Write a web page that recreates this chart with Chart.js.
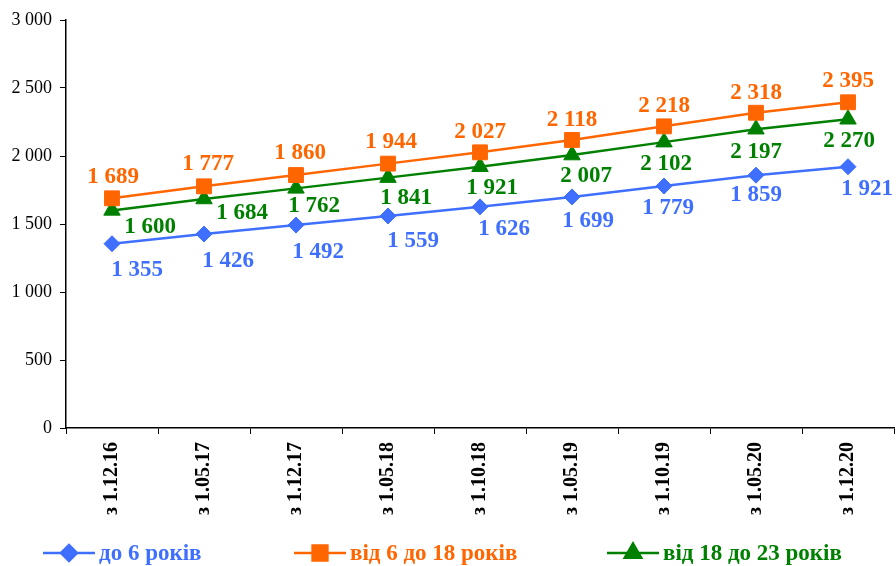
<!DOCTYPE html>
<html>
<head>
<meta charset="utf-8">
<script src="https://cdn.jsdelivr.net/npm/chart.js@4"></script>
<style>
  html, body { margin: 0; padding: 0; background: #fff; overflow: hidden; }
  #wrap { width: 896px; height: 566px; }
</style>
</head>
<body>
<div id="wrap"><canvas id="line"></canvas></div>
<script>
const categories = ['з 1.12.16', 'з 1.05.17', 'з 1.12.17', 'з 1.05.18', 'з 1.10.18',
    'з 1.05.19', 'з 1.10.19', 'з 1.05.20', 'з 1.12.20'];
const seriesNames = ['до 6 років', 'від 6 до 18 років', 'від 18 до 23 років'];
const under6 = [1355, 1426, 1492, 1559, 1626, 1699, 1779, 1859, 1921];
const from6to18 = [1689, 1777, 1860, 1944, 2027, 2118, 2218, 2318, 2395];
const from18to23 = [1600, 1684, 1762, 1841, 1921, 2007, 2102, 2197, 2270];
const yTicks = [0, 500, 1000, 1500, 2000, 2500, 3000];

const colours = ['#3F6FFF', '#FF6600', '#008000'];
const FONT = '"Liberation Serif", "Times New Roman", serif';

// label shift from each point, in pixels
const labelShift = [
    [[25, 26], [24, 27], [22, 27], [25, 25], [24, 22], [16, 24], [4, 22], [0, 20], [19, 22]],
    [[1, -21], [4, -22], [4, -22], [3, -22], [0, -20], [0, -20], [0, -20], [0, -20], [0, -21]],
    [[38, 17], [38, 14], [18, 18], [18, 20], [12, 21], [14, 21], [2, 22], [0, 23], [1, 22]]
];

function spaced(n) {
    return String(n).replace(/\B(?=(\d{3})+(?!\d))/g, ' ');
}

const pointLabels = {
    id: 'pointLabels',
    afterDatasetsDraw(chart) {
        const ctx = chart.ctx;
        ctx.save();
        ctx.font = 'bold 23px ' + FONT;
        ctx.textAlign = 'center';
        ctx.textBaseline = 'middle';
        chart.data.datasets.forEach((ds, i) => {
            const meta = chart.getDatasetMeta(i);
            ctx.fillStyle = ds.borderColor;
            meta.data.forEach((pt, j) => {
                const s = labelShift[i][j];
                ctx.fillText(spaced(ds.data[j]), pt.x + s[0], pt.y + s[1]);
            });
        });
        ctx.restore();
    }
};

const bottomLegend = {
    id: 'bottomLegend',
    afterDraw(chart) {
        const ctx = chart.ctx;
        const starts = [43, 294, 607];
        const y = 553;
        ctx.save();
        ctx.font = 'bold 23px ' + FONT;
        ctx.textBaseline = 'middle';
        chart.data.datasets.forEach((ds, i) => {
            const x = starts[i];
            ctx.strokeStyle = ds.borderColor;
            ctx.lineWidth = 2.5;
            ctx.beginPath();
            ctx.moveTo(x, y);
            ctx.lineTo(x + 52, y);
            ctx.stroke();
            ctx.fillStyle = ds.borderColor;
            Chart.helpers.drawPoint(ctx, {
                pointStyle: ds.pointStyle, radius: ds.pointRadius, borderWidth: 1
            }, x + 26, y);
            ctx.fillText(ds.label, x + 56, y + 1);
        });
        ctx.restore();
    }
};

function series(i, data, style, radius) {
    return {
        label: seriesNames[i],
        data: data,
        borderColor: colours[i],
        backgroundColor: colours[i],
        borderWidth: 2.5,
        pointStyle: style,
        pointRadius: radius,
        pointHoverRadius: radius,
        pointBorderWidth: 1,
        tension: 0,
        clip: false
    };
}

new Chart(document.getElementById('line'), {
    type: 'line',
    data: {
        labels: categories,
        datasets: [
            series(0, under6, 'rectRot', 8),
            series(1, from6to18, 'rect', 10.5),
            series(2, from18to23, 'triangle', 9.5)
        ]
    },
    options: {
        responsive: true,
        maintainAspectRatio: false,
        animation: false,
        layout: { autoPadding: false, padding: { top: 20, right: 2, left: 0, bottom: 0 } },
        plugins: { legend: { display: false }, tooltip: { enabled: false } },
        scales: {
            x: {
                type: 'category',
                offset: true,
                grid: { display: true, drawOnChartArea: false, offset: true, color: '#000', tickLength: 6, tickColor: '#000' },
                border: { color: '#000', width: 1.5 },
                ticks: {
                    color: '#000', minRotation: 90, maxRotation: 90, padding: 8,
                    font: { family: FONT, size: 20, weight: 'bold' }
                },
                afterFit(scale) {
                    scale.height = 138;
                    scale.paddingLeft = 0;
                    scale.paddingRight = 0;
                }
            },
            y: {
                min: 0, max: 3000,
                afterBuildTicks(scale) { scale.ticks = yTicks.map(v => ({ value: v })); },
                grid: { display: true, drawOnChartArea: false, color: '#000', tickLength: 6, tickColor: '#000' },
                border: { color: '#000', width: 1.5 },
                ticks: {
                    color: '#000', padding: 8,
                    font: { family: FONT, size: 18 },
                    callback: v => spaced(v)
                },
                afterFit(scale) {
                    scale.width = 66;
                    scale.paddingTop = 0;
                    scale.paddingBottom = 0;
                }
            }
        }
    },
    plugins: [pointLabels, bottomLegend]
});
</script>
</body>
</html>
